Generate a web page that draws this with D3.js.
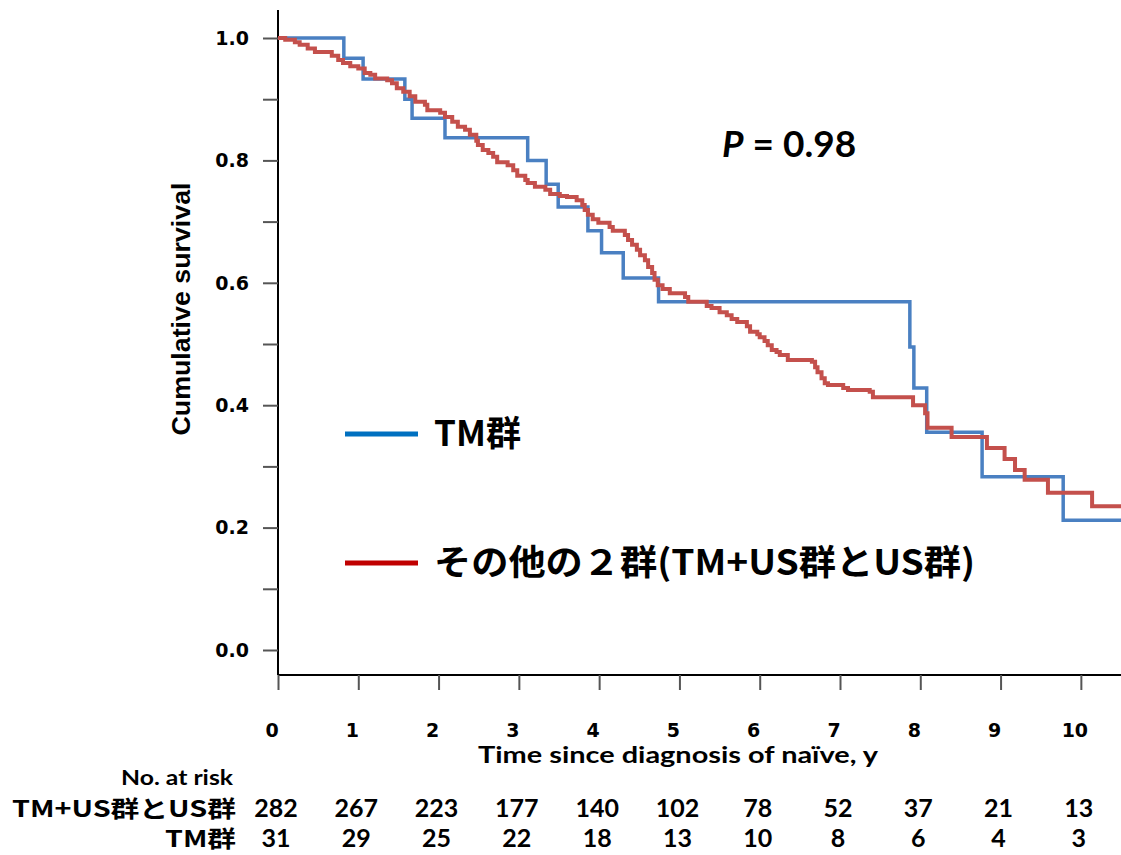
<!DOCTYPE html>
<html>
<head>
<meta charset="utf-8">
<script src="https://cdn.jsdelivr.net/npm/d3@7"></script>
<style>
  body { margin: 0; background: #fff; }
  .axis path.domain { display: none; }
  .axis line { stroke: #555; stroke-width: 2; }
</style>
</head>
<body>
<svg id="chart" width="1121" height="855"></svg>
<script>
// other two groups (TM+US and US), Kaplan-Meier steps
var otherTimes = [0, 0.09, 0.21, 0.27, 0.37, 0.46, 0.67, 0.75, 0.81, 0.90, 1.00, 1.08, 1.15, 1.21, 1.36, 1.42,
  1.48, 1.56, 1.64, 1.71, 1.83, 1.86, 2.02, 2.08, 2.17, 2.24, 2.33, 2.39, 2.47, 2.49, 2.55, 2.62, 2.68, 2.73,
  2.86, 2.93, 2.98, 3.08, 3.11, 3.20, 3.33, 3.39, 3.51, 3.60, 3.72, 3.79, 3.82, 3.86, 3.92, 3.99, 4.13, 4.17,
  4.32, 4.36, 4.41, 4.47, 4.51, 4.57, 4.61, 4.66, 4.69, 4.73, 4.79, 4.88, 5.07, 5.11, 5.34, 5.40, 5.50, 5.59,
  5.65, 5.72, 5.84, 5.88, 5.97, 6.00, 6.06, 6.10, 6.15, 6.21, 6.25, 6.35, 6.65, 6.69, 6.72, 6.77, 6.81, 6.85,
  7.04, 7.10, 7.37, 7.41, 7.91, 8.06, 8.09, 8.39, 8.83, 9.05, 9.18, 9.30, 9.59, 10.14];
var otherSurv = [1.0, 0.997, 0.993, 0.989, 0.983, 0.977, 0.971, 0.964, 0.959, 0.954, 0.950, 0.943, 0.940, 0.934, 0.931, 0.926,
  0.918, 0.912, 0.905, 0.896, 0.891, 0.882, 0.878, 0.871, 0.863, 0.855, 0.850, 0.842, 0.832, 0.825, 0.817, 0.812, 0.806, 0.797,
  0.792, 0.784, 0.775, 0.768, 0.763, 0.757, 0.752, 0.745, 0.742, 0.740, 0.735, 0.727, 0.719, 0.711, 0.704, 0.698, 0.691, 0.685,
  0.678, 0.670, 0.662, 0.654, 0.645, 0.637, 0.626, 0.616, 0.605, 0.596, 0.590, 0.583, 0.577, 0.569, 0.562, 0.559, 0.552, 0.547,
  0.541, 0.536, 0.529, 0.520, 0.516, 0.511, 0.505, 0.498, 0.490, 0.487, 0.482, 0.474, 0.471, 0.462, 0.454, 0.444, 0.436, 0.433,
  0.428, 0.425, 0.422, 0.413, 0.400, 0.387, 0.363, 0.348, 0.330, 0.312, 0.294, 0.278, 0.257, 0.235];

// TM group
var tmTimes = [0, 0.82, 1.06, 1.58, 1.67, 2.08, 3.11, 3.34, 3.49, 3.86, 4.03, 4.30, 4.74, 7.87, 7.92, 8.08, 8.77, 9.78];
var tmSurv  = [1.0, 0.967, 0.933, 0.900, 0.869, 0.837, 0.800, 0.761, 0.724, 0.685, 0.649, 0.608, 0.569, 0.495, 0.428, 0.356, 0.283, 0.212];

var xTicks = [0, 1, 2, 3, 4, 5, 6, 7, 8, 9, 10];
var yTicks = [0, 0.1, 0.2, 0.3, 0.4, 0.5, 0.6, 0.7, 0.8, 0.9, 1.0];
var yLabels = [0, 0.2, 0.4, 0.6, 0.8, 1.0];

var riskNames = ["TM+US群とUS群", "TM群"];
var riskOther = [282, 267, 223, 177, 140, 102, 78, 52, 37, 21, 13];
var riskTM = [31, 29, 25, 22, 18, 13, 10, 8, 6, 4, 3];

var legendNames = ["TM群", "その他の２群(TM+US群とUS群)"];
var pText = "= 0.98";

var svg = d3.select("#chart");
var tMax = 10.5;

var x = d3.scaleLinear().domain([0, tMax]).range([278, 1121]);
var y = d3.scaleLinear().domain([0, 1]).range([650, 38]);

var axisY = 675;
var tickFont = "bold 19px 'DejaVu Sans', Verdana, sans-serif";

// axis lines
svg.append("line").attr("x1", 278).attr("x2", 278).attr("y1", 10).attr("y2", axisY)
  .attr("stroke", "#000").attr("stroke-width", 2);
svg.append("line").attr("x1", 278).attr("x2", 1121).attr("y1", axisY).attr("y2", axisY)
  .attr("stroke", "#000").attr("stroke-width", 2);

// y ticks
svg.append("g").attr("class", "axis")
  .attr("transform", "translate(278,0)")
  .call(d3.axisLeft(y).tickValues(yTicks).tickSize(15).tickFormat(""));

svg.append("g").selectAll("text")
  .data(yLabels).enter().append("text")
  .attr("x", 249)
  .attr("y", function(d) { return y(d); })
  .attr("dy", "0.36em")
  .attr("text-anchor", "end")
  .style("font", tickFont)
  .text(function(d) { return d3.format(".1f")(d); });

// x ticks
svg.append("g").attr("class", "axis")
  .attr("transform", "translate(0," + axisY + ")")
  .call(d3.axisBottom(x).tickValues(xTicks).tickSize(15).tickFormat(""));

svg.append("g").selectAll("text")
  .data(xTicks).enter().append("text")
  .attr("x", function(d) { return x(d) - 6; })
  .attr("y", 737)
  .attr("text-anchor", "middle")
  .style("font", tickFont)
  .text(function(d) { return d; });

// axis titles
svg.append("text")
  .attr("transform", "translate(190,309) rotate(-90)")
  .attr("text-anchor", "middle")
  .style("font", "bold 25px 'Liberation Sans', Arial, sans-serif")
  .attr("textLength", 253).attr("lengthAdjust", "spacingAndGlyphs")
  .text("Cumulative survival");

svg.append("text")
  .attr("x", 678).attr("y", 763)
  .attr("text-anchor", "middle")
  .style("font", "bold 23px Lato, 'Open Sans', sans-serif")
  .attr("textLength", 400).attr("lengthAdjust", "spacingAndGlyphs")
  .text("Time since diagnosis of naïve, y");

// survival curves
var line = d3.line()
  .x(function(d) { return x(d[0]); })
  .y(function(d) { return y(d[1]); })
  .curve(d3.curveStepAfter);

function steps(times, surv) {
  var pts = times.map(function(t, i) { return [t, surv[i]]; });
  pts.push([tMax, surv[surv.length - 1]]);
  return pts;
}

svg.append("path")
  .datum(steps(tmTimes, tmSurv))
  .attr("d", line)
  .attr("fill", "none")
  .attr("stroke", "#4a80c2")
  .attr("stroke-width", 3.5);

svg.append("path")
  .datum(steps(otherTimes, otherSurv))
  .attr("d", line)
  .attr("fill", "none")
  .attr("stroke", "#c4504c")
  .attr("stroke-width", 4);

// P value
var p = svg.append("text")
  .attr("x", 722).attr("y", 157)
  .style("font", "bold 37px Lato, 'Open Sans', sans-serif");
p.append("tspan").style("font-style", "italic").text("P");
p.append("tspan").text(" " + pText);

// legend
var legColors = ["#0070c0", "#c00000"];
var legY = [434, 563];
var legWidth = [87, 541];
legendNames.forEach(function(name, i) {
  svg.append("line")
    .attr("x1", 345).attr("x2", 418)
    .attr("y1", legY[i]).attr("y2", legY[i])
    .attr("stroke", legColors[i]).attr("stroke-width", 5);
  svg.append("text")
    .attr("x", 434).attr("y", legY[i] + 12)
    .style("font", "bold 35px 'Noto Sans CJK JP', sans-serif")
    .attr("textLength", legWidth[i]).attr("lengthAdjust", "spacingAndGlyphs")
    .text(name);
});

// number at risk
svg.append("text")
  .attr("x", 233).attr("y", 785)
  .attr("text-anchor", "end")
  .style("font", "bold 21px Lato, 'Open Sans', sans-serif")
  .attr("textLength", 112).attr("lengthAdjust", "spacingAndGlyphs")
  .text("No. at risk");

var rowY = [817, 847];
var rowWidth = [224, 71];
var rows = [riskOther, riskTM];
rows.forEach(function(vals, r) {
  svg.append("text")
    .attr("x", 236).attr("y", rowY[r])
    .attr("text-anchor", "end")
    .style("font", "bold 23px 'Noto Sans CJK JP', sans-serif")
    .attr("textLength", rowWidth[r]).attr("lengthAdjust", "spacingAndGlyphs")
    .text(riskNames[r]);
  svg.append("g").selectAll("text")
    .data(vals).enter().append("text")
    .attr("x", function(d, i) { return x(xTicks[i]) - 2; })
    .attr("y", rowY[r])
    .attr("text-anchor", "middle")
    .style("font", "bold 25px Lato, 'Open Sans', sans-serif")
    .text(function(d) { return d; });
});
</script>
</body>
</html>
